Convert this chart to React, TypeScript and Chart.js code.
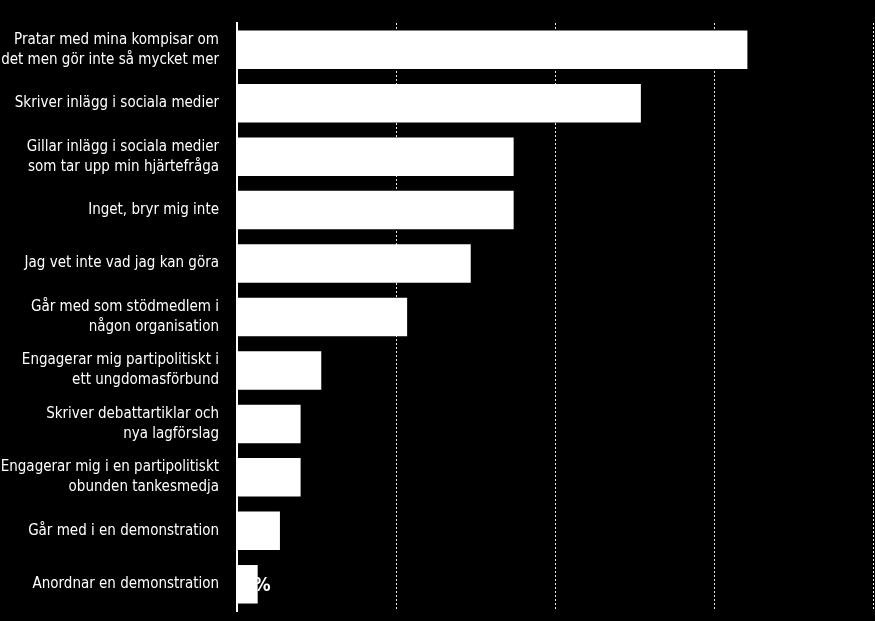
import React, { useEffect, useRef } from "react";
import { Chart, registerables } from "chart.js";

Chart.register(...registerables);

const categories: string[][] = [
  ["Pratar med mina kompisar om", "det men gör inte så mycket mer"],
  ["Skriver inlägg i sociala medier"],
  ["Gillar inlägg i sociala medier", "som tar upp min hjärtefråga"],
  ["Inget, bryr mig inte"],
  ["Jag vet inte vad jag kan göra"],
  ["Går med som stödmedlem i", "någon organisation"],
  ["Engagerar mig partipolitiskt i", "ett ungdomasförbund"],
  ["Skriver debattartiklar och", "nya lagförslag"],
  ["Engagerar mig i en partipolitiskt", "obunden tankesmedja"],
  ["Går med i en demonstration"],
  ["Anordnar en demonstration"],
];

const values: number[] = [32.1, 25.4, 17.4, 17.4, 14.7, 10.7, 5.3, 4.0, 4.0, 2.7, 1.3];

const xMax = 40;
const xStep = 10;

const FONT = "'DejaVu Sans Condensed', 'Liberation Sans Narrow', sans-serif";

const labelPlugin = {
  id: "innerLabels",
  afterDatasetsDraw(chart: any) {
    const ctx = chart.ctx;
    const meta = chart.getDatasetMeta(0);
    ctx.save();
    ctx.fillStyle = "#ffffff";
    ctx.font = `bold 19px ${FONT}`;
    ctx.textAlign = "left";
    ctx.textBaseline = "middle";
    meta.data.forEach((bar: any, i: number) => {
      ctx.fillText(Math.round(values[i]) + "%", bar.base + 4, bar.y + 2);
    });
    ctx.restore();
  },
};

export default function App() {
  const ref = useRef<HTMLCanvasElement>(null);
  useEffect(() => {
    if (!ref.current) return;
    const chart = new Chart(ref.current, {
      type: "bar",
      data: {
        labels: categories,
        datasets: [
          {
            data: values,
            backgroundColor: "#ffffff",
            borderWidth: 0,
            barPercentage: 0.72,
            categoryPercentage: 1,
          },
        ],
      },
      options: {
        indexAxis: "y",
        animation: false,
        responsive: false,
        maintainAspectRatio: false,
        layout: { padding: { left: 0, right: 2, top: 23, bottom: 10 } },
        plugins: { legend: { display: false }, tooltip: { enabled: false } },
        scales: {
          x: {
            min: 0,
            max: xMax,
            ticks: { display: false, stepSize: xStep, padding: 0 },
            grid: {
              color: "rgba(255,255,255,0.9)",
              drawTicks: false,
              lineWidth: 1,
            },
            border: { display: false, dash: [2, 2] },
            afterFit(scale: any) {
              scale.height = 0;
              scale.paddingLeft = 0;
              scale.paddingRight = 0;
            },
          },
          y: {
            ticks: {
              color: "#ffffff",
              font: { family: FONT, size: 15, lineHeight: 1.33 },
              padding: 18,
            },
            grid: { display: false, drawTicks: false },
            border: { display: true, color: "#ffffff", width: 2 },
            afterFit(scale: any) {
              scale.width = 237;
              scale.paddingTop = 0;
              scale.paddingBottom = 0;
            },
          },
        },
      },
      plugins: [labelPlugin],
    });
    return () => chart.destroy();
  }, []);
  return (
    <div style={{ position: "absolute", left: 0, top: 0, width: 875, height: 621, background: "#000" }}>
      <canvas ref={ref} width={875} height={621} style={{ display: "block" }} />
    </div>
  );
}
